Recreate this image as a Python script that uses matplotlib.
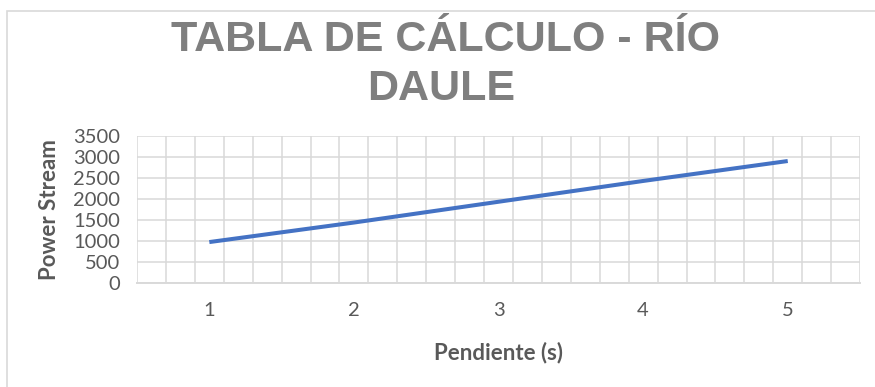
import matplotlib.pyplot as plt
import numpy as np
from matplotlib.patches import Rectangle

# Power stream vs slope
pendiente = [1, 2, 3, 4, 5]
power_stream = [975, 1440, 1935, 2430, 2905]
y_ticks = [0, 500, 1000, 1500, 2000, 2500, 3000, 3500]

title_color = '#7f7f7f'
text_color = '#595959'
grid_color = '#d9d9d9'
line_color = '#4472c4'

fig = plt.figure(figsize=(8.75, 3.87), dpi=100)
ax = fig.add_axes([0.1566, 0.2687, 0.8263, 0.3798])

# chart frame
fig.patches.append(Rectangle((7 / 875, -0.1), 1.0, (387 - 11) / 387 + 0.1,
                             transform=fig.transFigure, fill=False,
                             edgecolor='#d9d9d9', linewidth=1.2))

ax.plot(pendiente, power_stream, color=line_color, linewidth=2.9,
        solid_capstyle='butt', zorder=3)

ax.set_xlim(0.5, 5.5)
ax.set_ylim(0, 3500)
ax.set_yticks(y_ticks)
ax.set_xticks(pendiente)
ax.set_xticks(np.arange(0.5, 5.51, 0.2), minor=True)

ax.grid(True, which='major', axis='y', color=grid_color, linewidth=1.1)
ax.grid(True, which='minor', axis='x', color=grid_color, linewidth=1.1)
ax.set_axisbelow(True)
for side in ['top', 'right', 'left']:
    ax.spines[side].set_visible(False)
ax.spines['bottom'].set_color(grid_color)
ax.spines['bottom'].set_linewidth(1.4)

ax.tick_params(which='both', length=0)
ax.tick_params(axis='y', pad=12)
ax.tick_params(axis='x', pad=14)
for lbl in ax.get_xticklabels() + ax.get_yticklabels():
    lbl.set_fontfamily('Lato')
    lbl.set_fontsize(14.5)
    lbl.set_color(text_color)

ax.set_ylabel('Power Stream', fontfamily='Lato', fontweight='bold',
              fontsize=16, color=text_color, va='center')
ax.yaxis.set_label_coords(-0.1217, 0.5)
ax.set_xlabel('Pendiente (s)', fontfamily='Lato', fontweight='bold',
              fontsize=16, color=text_color, va='center')
ax.xaxis.set_label_coords(0.5, -0.47)

title_kw = dict(ha='center', va='baseline', fontfamily='Liberation Sans',
                fontweight='bold', fontsize=31, color=title_color)
fig.text(0.5097, 1 - 51 / 387, 'TABLA DE CÁLCULO - RÍO', **title_kw)
fig.text(0.5040, 1 - 100 / 387, 'DAULE', **title_kw)

fig.savefig('out.png', dpi=100)
